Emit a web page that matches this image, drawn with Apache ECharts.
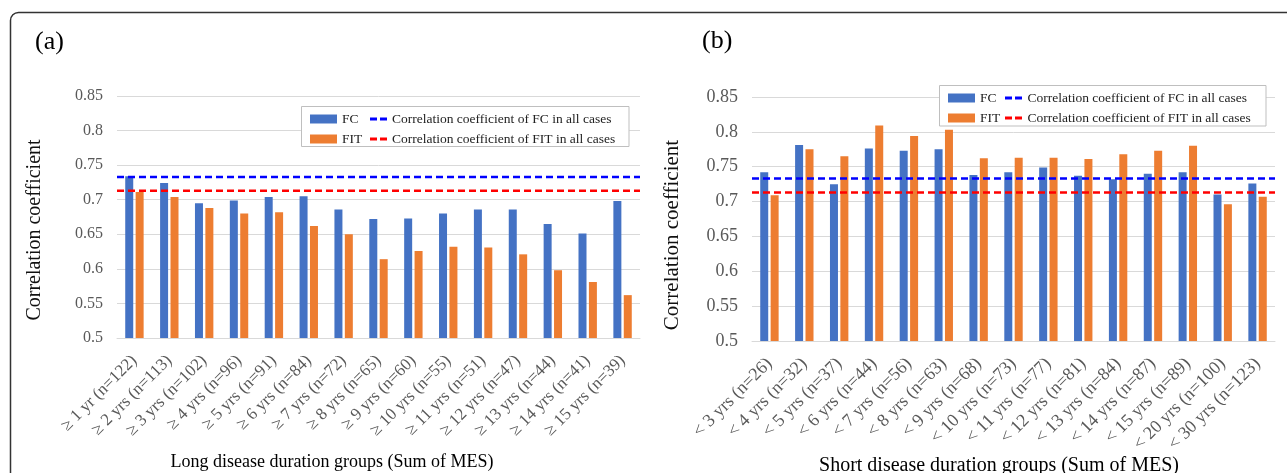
<!DOCTYPE html>
<html>
<head>
<meta charset="utf-8">
<script src="https://cdn.jsdelivr.net/npm/echarts@6/dist/echarts.min.js"></script>
<style>html,body{margin:0;padding:0;background:#fff;}#main{width:1287px;height:473px;}</style>
</head>
<body>
<div id="main"></div>
<script>
const leftCategories = ['≥ 1 yr (n=122)', '≥ 2 yrs (n=113)', '≥ 3 yrs (n=102)', '≥ 4 yrs (n=96)', '≥ 5 yrs (n=91)', '≥ 6 yrs (n=84)', '≥ 7 yrs (n=72)', '≥ 8 yrs (n=65)', '≥ 9 yrs (n=60)', '≥ 10 yrs (n=55)', '≥ 11 yrs (n=51)', '≥ 12 yrs (n=47)', '≥ 13 yrs (n=44)', '≥ 14 yrs (n=41)', '≥ 15 yrs (n=39)'];
const leftFC  = [0.734, 0.724, 0.695, 0.699, 0.704, 0.705, 0.686, 0.672, 0.673, 0.680, 0.686, 0.686, 0.665, 0.651, 0.698];
const leftFIT = [0.711, 0.704, 0.688, 0.680, 0.682, 0.662, 0.650, 0.614, 0.626, 0.632, 0.631, 0.621, 0.598, 0.581, 0.562];

const rightCategories = ['< 3 yrs (n=26)', '< 4 yrs (n=32)', '< 5 yrs (n=37)', '< 6 yrs (n=44)', '< 7 yrs (n=56)', '< 8 yrs (n=63)', '< 9 yrs (n=68)', '< 10 yrs (n=73)', '< 11 yrs (n=77)', '< 12 yrs (n=81)', '< 13 yrs (n=84)', '< 14 yrs (n=87)', '< 15 yrs (n=89)', '< 20 yrs (n=100)', '< 30 yrs (n=123)'];
const rightFC  = [0.742, 0.781, 0.725, 0.776, 0.773, 0.775, 0.738, 0.742, 0.749, 0.737, 0.732, 0.740, 0.742, 0.710, 0.726];
const rightFIT = [0.709, 0.775, 0.765, 0.809, 0.794, 0.803, 0.762, 0.763, 0.763, 0.761, 0.768, 0.773, 0.780, 0.696, 0.707];

const fcAllCases = 0.733;
const fitAllCases = 0.713;

const yMin = 0.5, yMax = 0.85, yStep = 0.05;

const panelLabels = ['(a)', '(b)'];
const yAxisTitle = 'Correlation coefficient';
const xAxisTitles = ['Long disease duration groups (Sum of MES)', 'Short disease duration groups (Sum of MES)'];
const nameFC = 'FC', nameFIT = 'FIT';
const nameFCAll = 'Correlation coefficient of FC in all cases';
const nameFITAll = 'Correlation coefficient of FIT in all cases';

const FONT = '"Liberation Serif", "Times New Roman", serif';
const BLUE = '#4472C4', ORANGE = '#ED7D31';
const DASH_ICON = 'path://M0,0H7V3H0Z M10,0H17V3H10Z';

function catAxis(grid, data, fs) {
  return {
    type: 'category', gridIndex: grid, data: data,
    axisTick: { show: false },
    axisLine: { lineStyle: { color: '#d9d9d9', width: 1 } },
    axisLabel: { rotate: 45, interval: 0, margin: 20, fontSize: fs, color: '#595959', fontFamily: FONT }
  };
}
function hiddenX(grid) { return { type: 'value', gridIndex: grid, min: 0, max: 1, show: false }; }
function valAxis(grid, fs) {
  return {
    type: 'value', gridIndex: grid, min: yMin, max: yMax, interval: yStep,
    axisLine: { show: false }, axisTick: { show: false },
    splitLine: { lineStyle: { color: '#d9d9d9', width: 1 } },
    axisLabel: { fontSize: fs, color: '#595959', fontFamily: FONT, margin: 14 }
  };
}
function bar(name, data, xi, yi, color) {
  return { type: 'bar', name: name, data: data, xAxisIndex: xi, yAxisIndex: yi, barWidth: 8, barGap: '30%',
    itemStyle: { color: color }, silent: true, z: 2 };
}
function refLine(name, v, xi, yi, color) {
  return { type: 'line', name: name, data: [[0, v], [1, v]], xAxisIndex: xi, yAxisIndex: yi, symbol: 'none',
    lineStyle: { color: color, width: 2.5, type: [7, 4] }, itemStyle: { color: color }, silent: true, z: 3 };
}
function legend(data, left, top, iw, ih, icon) {
  return { data: data, orient: 'vertical', left: left, top: top, itemWidth: iw, itemHeight: ih, itemGap: 5,
    icon: icon, padding: 0, selectedMode: false, z: 5,
    textStyle: { fontFamily: FONT, fontSize: 13.5, color: '#222', lineHeight: 15 } };
}

const chart = echarts.init(document.getElementById('main'), null, { renderer: 'canvas' });
chart.setOption({
  backgroundColor: '#fff',
  animation: false,
  grid: [
    { left: 117, top: 96, width: 523, height: 242 },
    { left: 752, top: 97, width: 523, height: 244 }
  ],
  xAxis: [catAxis(0, leftCategories, 17), hiddenX(0), catAxis(1, rightCategories, 18), hiddenX(1)],
  yAxis: [valAxis(0, 16), valAxis(1, 18)],
  legend: [
    legend([nameFC, nameFIT], 310, 111.5, 27, 9, 'rect'),
    legend([nameFCAll, nameFITAll], 370, 111.5, 17, 3, DASH_ICON),
    legend([nameFC, nameFIT], 948, 90.5, 27, 9, 'rect'),
    legend([nameFCAll, nameFITAll], 1005, 90.5, 18, 3, DASH_ICON)
  ],
  series: [
    bar(nameFC, leftFC, 0, 0, BLUE),
    bar(nameFIT, leftFIT, 0, 0, ORANGE),
    refLine(nameFCAll, fcAllCases, 1, 0, '#0000FF'),
    refLine(nameFITAll, fitAllCases, 1, 0, '#FF0000'),
    bar(nameFC, rightFC, 2, 1, BLUE),
    bar(nameFIT, rightFIT, 2, 1, ORANGE),
    refLine(nameFCAll, fcAllCases, 3, 1, '#0000FF'),
    refLine(nameFITAll, fitAllCases, 3, 1, '#FF0000')
  ],
  graphic: [
    { type: 'rect', silent: true, z: 1, shape: { x: 10.5, y: 12.5, width: 1400, height: 600, r: 8 },
      style: { fill: 'none', stroke: '#333', lineWidth: 1.5 } },
    { type: 'rect', silent: true, z: 3, shape: { x: 301.5, y: 106.5, width: 327.5, height: 40 },
      style: { fill: '#fff', stroke: '#bfbfbf', lineWidth: 1 } },
    { type: 'rect', silent: true, z: 3, shape: { x: 939.5, y: 85.5, width: 326.5, height: 40.5 },
      style: { fill: '#fff', stroke: '#bfbfbf', lineWidth: 1 } },
    { type: 'text', silent: true, x: 35, y: 42, style: { text: panelLabels[0], font: '26px ' + FONT, fill: '#000', verticalAlign: 'middle' } },
    { type: 'text', silent: true, x: 702, y: 41, style: { text: panelLabels[1], font: '26px ' + FONT, fill: '#000', verticalAlign: 'middle' } },
    { type: 'text', silent: true, x: 34.5, y: 230, rotation: Math.PI / 2,
      style: { text: yAxisTitle, font: '20px ' + FONT, fill: '#111', align: 'center', verticalAlign: 'middle' } },
    { type: 'text', silent: true, x: 672, y: 235, rotation: Math.PI / 2,
      style: { text: yAxisTitle, font: '21px ' + FONT, fill: '#111', align: 'center', verticalAlign: 'middle' } },
    { type: 'text', silent: true, x: 332, y: 462,
      style: { text: xAxisTitles[0], font: '18px ' + FONT, fill: '#000', align: 'center', verticalAlign: 'middle' } },
    { type: 'text', silent: true, x: 999, y: 466,
      style: { text: xAxisTitles[1], font: '20px ' + FONT, fill: '#000', align: 'center', verticalAlign: 'middle' } }
  ]
});
</script>
</body>
</html>
